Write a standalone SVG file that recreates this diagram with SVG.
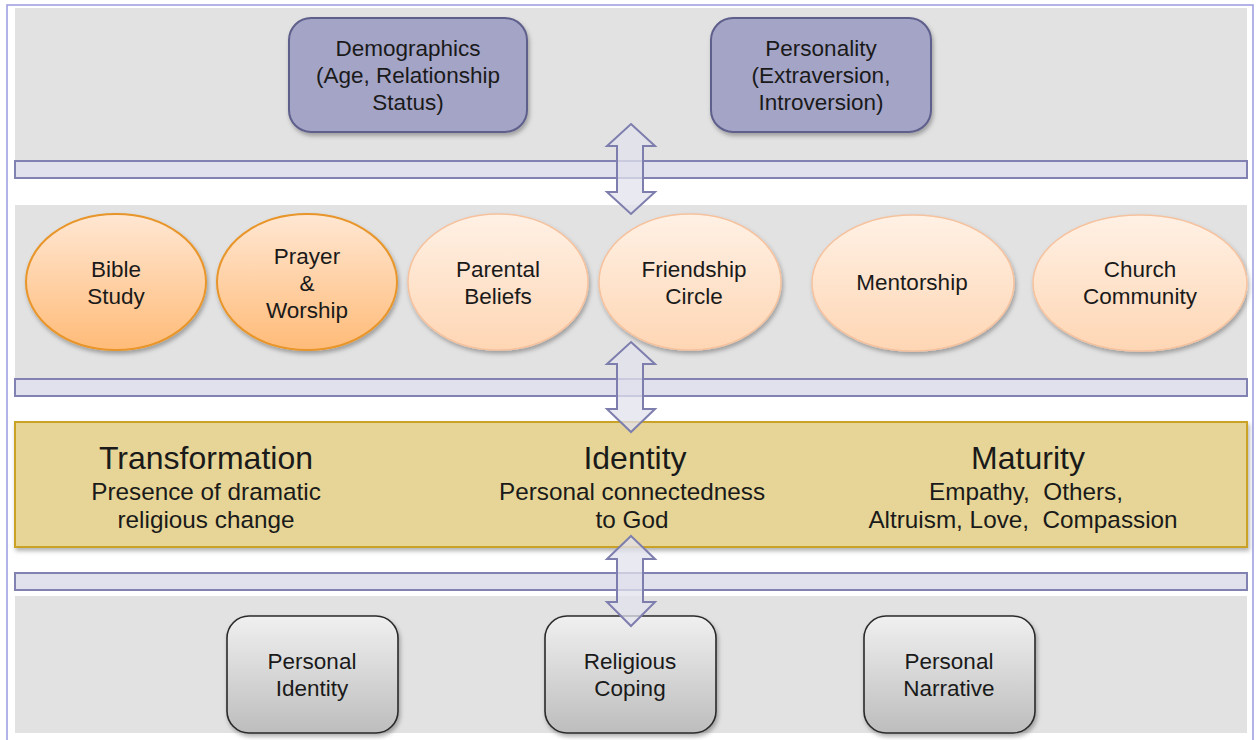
<svg xmlns="http://www.w3.org/2000/svg" width="1258" height="740" viewBox="0 0 1258 740">
  <defs>
    <linearGradient id="gOrange" x1="0" y1="0" x2="0" y2="1">
      <stop offset="0" stop-color="#ffe7d3"/>
      <stop offset="1" stop-color="#ffbb78"/>
    </linearGradient>
    <linearGradient id="gPeach" x1="0" y1="0" x2="0" y2="1">
      <stop offset="0" stop-color="#fff1e5"/>
      <stop offset="1" stop-color="#fed6b4"/>
    </linearGradient>
    <linearGradient id="gGray" x1="0" y1="0" x2="0" y2="1">
      <stop offset="0" stop-color="#f0f0f0"/>
      <stop offset="1" stop-color="#bdbdbd"/>
    </linearGradient>
    <filter id="shadow" x="-10%" y="-10%" width="125%" height="130%">
      <feDropShadow dx="1.5" dy="3" stdDeviation="2" flood-color="#000" flood-opacity="0.3"/>
    </filter>
    <style>
      .band { fill: #e2e2e2; }
      .bar { fill: #e1e1ed; stroke: #8282b2; stroke-width: 2; }
      .arrow { fill: #e1e1ed; fill-opacity: 0.75; stroke: #7e7eae; stroke-width: 2; stroke-linejoin: miter; }
      .patch { fill: #e1e1ed; }
      .purple { fill: #a4a4c6; stroke: #5e5e8c; stroke-width: 2; filter: url(#shadow); }
      .orange { fill: url(#gOrange); stroke: #e8952a; stroke-width: 2; filter: url(#shadow); }
      .peach { fill: url(#gPeach); stroke: #f6c29e; stroke-width: 1.5; filter: url(#shadow); }
      .gray { fill: url(#gGray); stroke: #2a2a2a; stroke-width: 1.6; filter: url(#shadow); }
      .yellow { fill: #e6d596; stroke: #c9a227; stroke-width: 2; filter: url(#shadow); }
      text { font-family: "Liberation Sans", Arial, sans-serif; fill: #1a1a1a; text-anchor: middle; }
      .t { font-size: 22.5px; }
      .h { font-size: 32px; }
      .s { font-size: 24.3px; }
    </style>
  </defs>

  <!-- page frame -->
  <rect x="0" y="0" width="1258" height="740" fill="#ffffff"/>
  <rect x="7" y="5" width="1246" height="740" fill="none" stroke="#9a9ae0" stroke-width="1.5"/>

  <!-- background bands -->
  <g id="bands">
    <rect class="band" x="15" y="8" width="1232" height="153"/>
    <rect class="band" x="15" y="205" width="1232" height="175"/>
    <rect class="yellow" id="outcomes" x="15" y="422" width="1232" height="125"/>
    <rect class="band" x="15" y="596" width="1232" height="137"/>
  </g>

  <!-- top row: individual factors -->
  <g id="demographics">
    <rect class="purple" x="289" y="18" width="238" height="114" rx="22"/>
    <text class="t"><tspan x="408" y="56">Demographics</tspan><tspan x="408" y="83">(Age, Relationship</tspan><tspan x="408" y="110">Status)</tspan></text>
  </g>
  <g id="personality">
    <rect class="purple" x="711" y="18" width="220" height="114" rx="22"/>
    <text class="t"><tspan x="821" y="56">Personality</tspan><tspan x="821" y="83">(Extraversion,</tspan><tspan x="821" y="110">Introversion)</tspan></text>
  </g>

  <!-- middle row: influences -->
  <g id="bible-study">
    <ellipse class="orange" cx="116" cy="282" rx="90" ry="68"/>
    <text class="t"><tspan x="116" y="277">Bible</tspan><tspan x="116" y="304">Study</tspan></text>
  </g>
  <g id="prayer-worship">
    <ellipse class="orange" cx="307" cy="282" rx="90" ry="68"/>
    <text class="t"><tspan x="307" y="264">Prayer</tspan><tspan x="307" y="291">&amp;</tspan><tspan x="307" y="318">Worship</tspan></text>
  </g>
  <g id="parental-beliefs">
    <ellipse class="peach" cx="498" cy="282" rx="90" ry="68"/>
    <text class="t"><tspan x="498" y="277">Parental</tspan><tspan x="498" y="304">Beliefs</tspan></text>
  </g>
  <g id="friendship-circle">
    <ellipse class="peach" cx="690" cy="282" rx="91" ry="68"/>
    <text class="t"><tspan x="694" y="277">Friendship</tspan><tspan x="694" y="304">Circle</tspan></text>
  </g>
  <g id="mentorship">
    <ellipse class="peach" cx="913" cy="283" rx="101" ry="68"/>
    <text class="t" x="912" y="290">Mentorship</text>
  </g>
  <g id="church-community">
    <ellipse class="peach" cx="1140" cy="283" rx="107" ry="68"/>
    <text class="t"><tspan x="1140" y="277">Church</tspan><tspan x="1140" y="304">Community</tspan></text>
  </g>

  <!-- outcome band labels -->
  <g id="transformation">
    <text class="h" x="206" y="469">Transformation</text>
    <text class="s"><tspan x="206" y="500">Presence of dramatic</tspan><tspan x="206" y="528">religious change</tspan></text>
  </g>
  <g id="identity">
    <text class="h" x="635" y="469">Identity</text>
    <text class="s"><tspan x="632" y="500">Personal connectedness</tspan><tspan x="632" y="528">to God</tspan></text>
  </g>
  <g id="maturity">
    <text class="h" x="1028" y="469">Maturity</text>
    <text class="s" xml:space="preserve"><tspan x="1026" y="500">Empathy,  Others,</tspan><tspan x="1023" y="528">Altruism, Love,  Compassion</tspan></text>
  </g>

  <!-- bottom row: processes -->
  <g id="personal-identity">
    <rect class="gray" x="227" y="616" width="171" height="117" rx="22"/>
    <text class="t"><tspan x="312" y="669">Personal</tspan><tspan x="312" y="696">Identity</tspan></text>
  </g>
  <g id="religious-coping">
    <rect class="gray" x="545" y="616" width="171" height="117" rx="22"/>
    <text class="t"><tspan x="630" y="669">Religious</tspan><tspan x="630" y="696">Coping</tspan></text>
  </g>
  <g id="personal-narrative">
    <rect class="gray" x="864" y="616" width="171" height="117" rx="22"/>
    <text class="t"><tspan x="949" y="669">Personal</tspan><tspan x="949" y="696">Narrative</tspan></text>
  </g>

  <!-- connectors: horizontal rails with two-way arrows -->
  <g id="connectors">
    <rect class="bar" x="15" y="161" width="1232" height="17"/>
    <rect class="bar" x="15" y="379" width="1232" height="17"/>
    <rect class="bar" x="15" y="573" width="1232" height="17"/>

    <path class="arrow" d="M631,124 L655,146 L643,146 L643,192 L655,192 L631,214 L607,192 L617,192 L617,146 L607,146 Z"/>
    <path class="arrow" d="M631,342 L655,364 L643,364 L643,409 L655,409 L631,432 L607,409 L617,409 L617,364 L607,364 Z"/>
    <path class="arrow" d="M631,536 L655,559 L643,559 L643,602 L655,602 L631,626 L607,602 L617,602 L617,559 L607,559 Z"/>

    <!-- join each shaft with its rail -->
    <rect class="patch" x="618" y="162" width="24" height="15"/>
    <rect class="patch" x="618" y="380" width="24" height="15"/>
    <rect class="patch" x="618" y="574" width="24" height="15"/>
  </g>
</svg>
